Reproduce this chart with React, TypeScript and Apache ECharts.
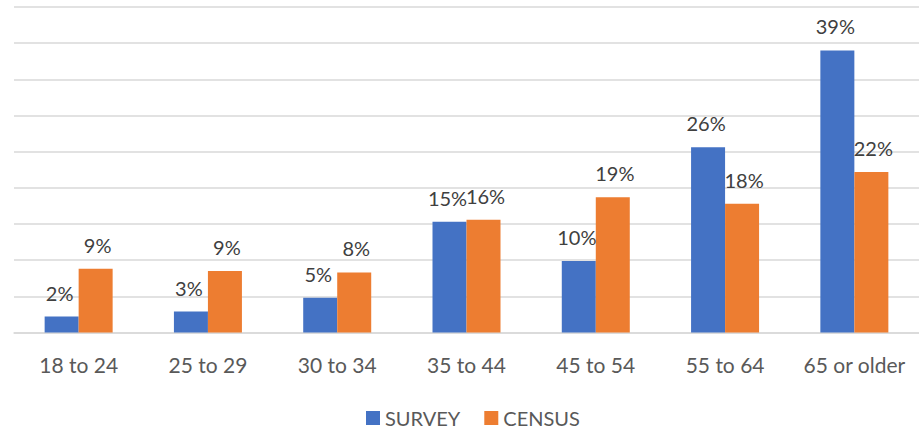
import React, { useEffect, useRef } from "react";
import * as echarts from "echarts";

const categories = ["18 to 24", "25 to 29", "30 to 34", "35 to 44", "45 to 54", "55 to 64", "65 or older"];
const surveyValues = [2.2, 2.9, 4.8, 15.3, 9.9, 25.6, 39.0];
const censusValues = [8.8, 8.5, 8.3, 15.6, 18.7, 17.8, 22.2];
const surveyLabels = ["2%", "3%", "5%", "15%", "10%", "26%", "39%"];
const censusLabels = ["9%", "9%", "8%", "16%", "19%", "18%", "22%"];
const axisMax = 45;

const FONT = "Lato, 'Open Sans', sans-serif";

export default function App() {
  const ref = useRef<HTMLDivElement>(null);
  useEffect(() => {
    if (!ref.current) return;
    const chart = echarts.init(ref.current, undefined, { renderer: "svg" });
    const labelStyle = (labels: string[], dx: number) => ({
      show: true,
      position: "top" as const,
      distance: 14,
      offset: [dx, 0],
      fontSize: 20,
      fontFamily: FONT,
      color: "#404040",
      formatter: (p: any) => labels[p.dataIndex],
    });
    chart.setOption({
      animation: false,
      textStyle: { fontFamily: FONT },
      grid: { left: 14, right: 0, top: 7, bottom: 97.5, containLabel: false },
      legend: {
        bottom: -3,
        left: 361,
        itemWidth: 14,
        itemHeight: 14,
        itemGap: 24,
        icon: "rect",
        textStyle: { fontSize: 20, color: "#595959", fontFamily: FONT, padding: [0, 0, 0, 0] },
        data: ["SURVEY", "CENSUS"],
      },
      xAxis: {
        type: "category",
        data: categories,
        axisLine: { show: true, lineStyle: { color: "#d9d9d9", width: 1.5 } },
        axisTick: { show: false },
        axisLabel: { fontSize: 21, color: "#595959", margin: 21, fontFamily: FONT, interval: 0 },
      },
      yAxis: {
        type: "value",
        min: 0,
        max: axisMax,
        interval: 5,
        axisLabel: { show: false },
        axisLine: { show: false },
        axisTick: { show: false },
        splitLine: { show: true, lineStyle: { color: "#d9d9d9", width: 1.5 } },
      },
      series: [
        {
          name: "SURVEY",
          type: "bar",
          data: surveyValues,
          itemStyle: { color: "#4472C4" },
          barWidth: 34,
          barGap: "0%",
          label: labelStyle(surveyLabels, -2),
        },
        {
          name: "CENSUS",
          type: "bar",
          data: censusValues,
          itemStyle: { color: "#ED7D31" },
          barWidth: 34,
          barGap: "0%",
          label: labelStyle(censusLabels, 2),
        },
      ],
    });
    return () => chart.dispose();
  }, []);
  return (
    <div
      ref={ref}
      style={{ position: "absolute", left: 0, top: 0, width: 919, height: 430, background: "#fff" }}
    />
  );
}
